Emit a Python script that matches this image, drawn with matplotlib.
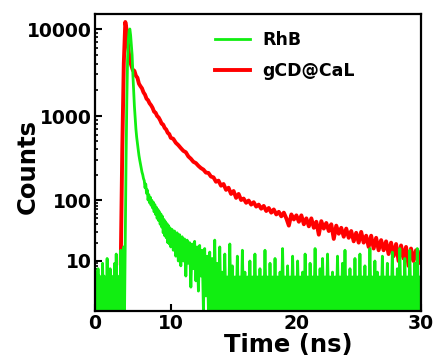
import numpy as np
import matplotlib
matplotlib.use('Agg')
import matplotlib.pyplot as plt
from matplotlib.ticker import FixedLocator, FuncFormatter

# ---- data (counts vs time, ns) ----
rhb_t0, rhb_dt = 0.0, 0.1
rhb_counts = [
    # baseline before the pulse
    5, 0.5, 6, 0.5, 7, 0.5, 5, 0.5, 4.5, 0.5,
    9, 0.5, 5, 0.5, 4.5, 0.5, 11, 0.5, 5, 0.5,
    7, 0.5, 5, 0.5, 4.5, 0.5, 9, 0.5, 13, 0.5,
    5, 0.5, 4.5, 0.5, 15, 0.5, 7, 0.5, 17,
    # rise + decay
    0.5, 25, 300, 1500, 4500, 7500, 9500, 10000, 8500, 6500,
    5000, 3000, 2000, 1300, 950, 700, 560, 470, 400, 340,
    300, 270, 240, 215, 200, 180, 170, 140, 155, 120,
    132, 100, 116, 90, 108, 82, 99, 74, 92, 64,
    84, 58, 76, 50, 70, 46, 64, 40, 59, 36,
    54, 29, 48, 26, 44, 24, 41, 20, 38, 19,
    35, 17, 33, 15, 31, 12, 29, 10, 27, 8,
    25, 10, 23, 5, 22, 9, 20, 3, 19, 7,
    21, 4, 17, 2.5, 18, 5, 15, 0.5, 16, 2,
    12, 0.5,
    # background after the decay
    14, 0.5, 11, 0.5, 22, 0.5, 9, 0.5, 17, 0.5, 6, 0.5, 13, 0.5, 4.8, 0.5, 19, 0.5, 8, 0.5,
    4.8, 0.5, 12, 0.5, 4.8, 0.5, 15, 0.5, 6, 0.5, 4.8, 0.5, 10, 0.5, 4.8, 0.5, 13, 0.5, 4.8, 0.5,
    7, 0.5, 4.8, 0.5, 15, 0.5, 4.8, 0.5, 9, 0.5, 4.8, 0.5, 11, 0.5, 4.8, 0.5, 6, 0.5, 16, 0.5,
    4.8, 0.5, 8, 0.5, 4.8, 0.5, 12, 0.5, 4.8, 0.5, 10, 0.5, 4.8, 0.5, 6, 0.5, 13, 0.5, 4.8, 0.5,
    9, 0.5, 4.8, 0.5, 16, 0.5, 4.8, 0.5, 7, 0.5, 11, 0.5, 4.8, 0.5, 13, 0.5, 4.8, 0.5, 6, 0.5,
    4.8, 0.5, 12, 0.5, 4.8, 0.5, 9, 0.5, 15, 0.5, 4.8, 0.5, 7, 0.5, 4.8, 0.5, 11, 0.5, 4.8, 0.5,
    13, 0.5, 4.8, 0.5, 8, 0.5, 4.8, 0.5, 16, 0.5, 4.8, 0.5, 10, 0.5, 6, 0.5, 4.8, 0.5, 12, 0.5,
    4.8, 0.5, 9, 0.5, 4.8, 0.5, 14, 0.5, 4.8, 0.5, 7, 0.5, 16, 0.5, 4.8, 0.5, 11, 0.5, 4.8, 0.5,
    15, 0.5, 4.8, 0.5, 9, 0.5, 16, 0.5, 4.8, 0.5,
]

gcd_t0, gcd_dt = 3.4, 0.2
gcd_counts = [
    9, 400, 4000, 12000, 9500, 6000, 4300,
    3800, 3350, 3300, 2900, 2750, 2350, 2200, 2080, 1870, 1760,
    1580, 1520, 1400, 1330, 1240, 1120, 1090, 1000, 960, 890,
    810, 790, 720, 690, 630, 610, 550, 535, 480, 450,
    415, 385,
    370, 330, 310, 285, 275, 255, 240, 230, 212, 210,
    190, 186, 165, 170, 148, 155, 132, 140, 118, 128,
    106, 118, 100, 104, 90, 98, 84, 92, 78, 84,
    72, 80, 66, 74, 62, 70, 58, 64, 54, 62,
    50, 38, 58, 48, 56,
    44, 56, 40, 50, 37, 50, 35, 44, 27, 45,
    34, 42, 31, 40, 23, 38, 28, 35, 25, 34,
    24, 31, 21, 29, 20, 30, 20, 26, 17, 26,
    16, 24, 15, 22, 15, 21, 13, 20, 12, 19,
    10, 18, 11, 17, 8, 16, 10, 15, 9, 14,
]

series_labels = ['RhB', 'gCD@CaL']
series_colors = ['#11ee11', '#ff0000']

x_ticks = [0, 10, 20, 30]
y_ticks = [10, 100, 1000, 10000]

# ---- axis mappings (the original axes are not evenly spaced) ----
XT, XP = [0, 10, 20, 30], [94, 170, 296, 421]
YL, YP = [0, 1, 2, 3, 4, 4.17], [311, 261, 200, 116, 29, 14]


def xfwd(x):
    return np.interp(x, XT, XP)


def xinv(p):
    return np.interp(p, XP, XT)


def yfwd(v):
    return -np.interp(np.log10(np.clip(v, 1e-3, None)), YL, YP)


def yinv(p):
    return 10 ** np.interp(p, -np.array(YP), YL)


plt.rcParams['font.family'] = ['DejaVu Sans']
plt.rcParams['font.weight'] = 'bold'

fig = plt.figure(figsize=(4.33, 3.6), dpi=100)
ax = fig.add_axes([95 / 433, 1 - 311 / 360, 326 / 433, 297 / 360])
ax.set_xscale('function', functions=(xfwd, xinv))
ax.set_yscale('function', functions=(yfwd, yinv))

t_gcd = gcd_t0 + gcd_dt * np.arange(len(gcd_counts))
t_rhb = rhb_t0 + rhb_dt * np.arange(len(rhb_counts))
l_gcd, = ax.plot(t_gcd, gcd_counts, color=series_colors[1], lw=2.8)
l_rhb, = ax.plot(t_rhb, rhb_counts, color=series_colors[0], lw=2.0)

ax.set_xlim(0, 30)
ax.set_ylim(1, 10 ** 4.17)

ax.xaxis.set_major_locator(FixedLocator(x_ticks))
ax.xaxis.set_minor_locator(FixedLocator([]))
ax.yaxis.set_major_locator(FixedLocator(y_ticks))
ax.yaxis.set_minor_locator(FixedLocator([m * 10 ** k for k in range(0, 4) for m in range(2, 10)]))
ax.yaxis.set_major_formatter(FuncFormatter(lambda v, p: '%d' % round(v)))
ax.xaxis.set_major_formatter(FuncFormatter(lambda v, p: '%d' % round(v)))

ax.tick_params(axis='both', which='major', direction='in', length=5, width=1.5, labelsize=13.5, pad=2)
ax.tick_params(axis='both', which='minor', direction='in', length=2.5, width=1.2)
for s in ax.spines.values():
    s.set_linewidth(1.6)

ax.set_xlabel('Time (ns)', fontsize=17.5, fontweight='bold')
ax.set_ylabel('Counts', fontsize=17.5, fontweight='bold')
ax.xaxis.set_label_coords(0.592, -0.115)
ax.yaxis.set_label_coords(-0.205, 0.485)
ax.xaxis.label.set_va('center')
ax.yaxis.label.set_va('center')

ax.legend([l_rhb, l_gcd], series_labels, loc='upper left', bbox_to_anchor=(0.368, 0.942),
          frameon=False, fontsize=12.5, handlelength=2.0, handletextpad=0.75,
          labelspacing=0.75, borderpad=0, borderaxespad=0)

fig.savefig('out.png', dpi=100)
